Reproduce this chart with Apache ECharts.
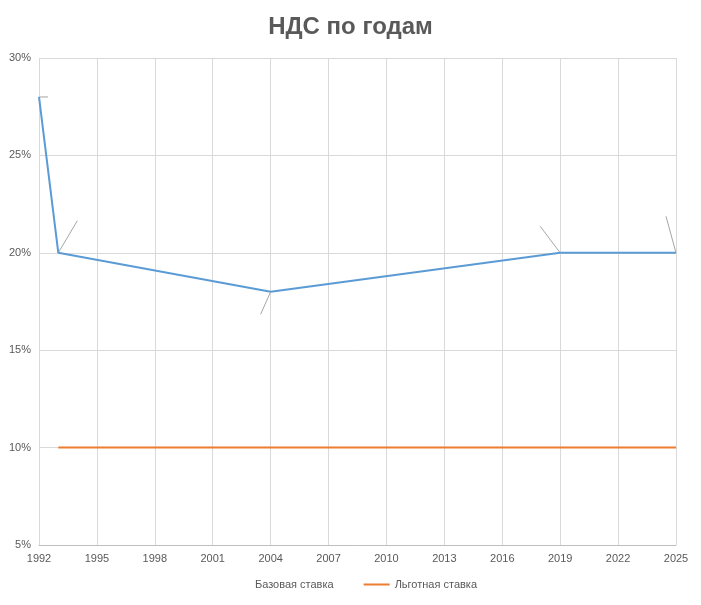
<!DOCTYPE html>
<html><head><meta charset="utf-8">
<script src="https://cdn.jsdelivr.net/npm/echarts@6/dist/echarts.min.js"></script>
<style>html,body{margin:0;padding:0;background:#fff}#c{width:701px;height:605px}</style>
</head><body><div id="c"></div>
<script>
var baseYears = [1992, 1993, 2004, 2019, 2025];
var baseRates = [28, 20, 18, 20, 20];
var lowYears = [1993, 2025];
var lowRates = [10, 10];
// смещения подписей (dx, dy) для базовой ставки
var labelShift = [[20, 0], [30, -32], [-10, 28], [-20, -32], [-10, -42]];

var chart = echarts.init(document.getElementById('c'));
chart.setOption({
    animation: false,
    textStyle: { fontFamily: 'Liberation Sans, Arial, sans-serif' },
    title: {
        text: 'НДС по годам', left: 'center', top: 10,
        textStyle: { fontSize: 24, fontWeight: 'bold', color: '#595959' }
    },
    legend: {
        bottom: 10, itemWidth: 26, itemHeight: 2, icon: 'rect', itemGap: 30,
        textStyle: { fontSize: 11, color: '#595959' },
        data: ['Базовая ставка', 'Льготная ставка']
    },
    grid: { left: 39, right: 25, top: 58, bottom: 60 },
    xAxis: {
        type: 'value', min: 1992, max: 2025, interval: 3,
        axisLine: { lineStyle: { color: '#bfbfbf' } },
        axisTick: { show: false },
        axisLabel: {
            color: '#595959', fontSize: 11,
            formatter: function (v) { return String(v); },
            customValues: [1992, 1995, 1998, 2001, 2004, 2007, 2010, 2013, 2016, 2019, 2022, 2025]
        },
        splitLine: { show: true, lineStyle: { color: '#d9d9d9' } }
    },
    yAxis: {
        type: 'value', min: 5, max: 30, interval: 5,
        axisLine: { show: false }, axisTick: { show: false },
        axisLabel: { color: '#595959', fontSize: 11, formatter: '{value}%' },
        splitLine: { lineStyle: { color: '#d9d9d9' } }
    },
    series: [{
        name: 'Базовая ставка', type: 'line', symbol: 'circle', symbolSize: 1, showSymbol: true,
        lineStyle: { color: '#5b9bd5', width: 2 }, itemStyle: { color: '#5b9bd5', opacity: 0 },
        data: baseYears.map(function (y, i) { return [y, baseRates[i]]; }),
        label: {
            show: true, position: 'inside',
            formatter: function (p) { return p.value[1] + '%'; }, fontSize: 11, color: '#404040'
        },
        labelLine: { show: true, lineStyle: { color: '#a6a6a6', width: 1 } },
        labelLayout: function (p) {
            var s = labelShift[p.dataIndex];
            return { dx: s[0], dy: s[1] };
        }
    }, {
        name: 'Льготная ставка', type: 'line', symbol: 'none',
        lineStyle: { color: '#ed7d31', width: 2 }, itemStyle: { color: '#ed7d31' },
        data: lowYears.map(function (y, i) { return [y, lowRates[i]]; })
    }]
});
</script></body></html>
